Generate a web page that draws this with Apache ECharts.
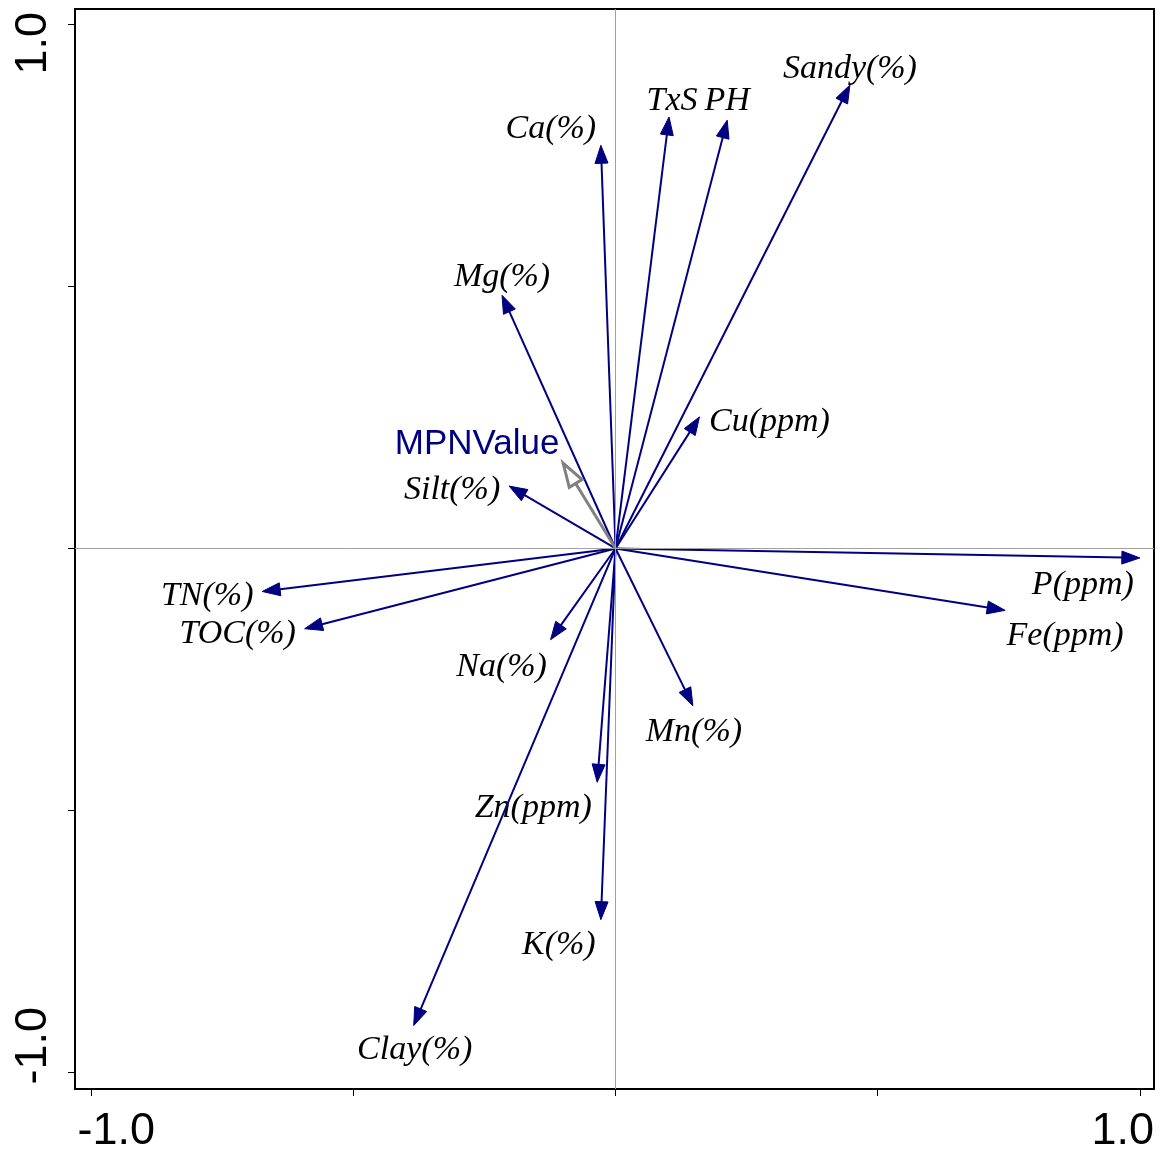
<!DOCTYPE html>
<html>
<head>
<meta charset="utf-8">
<script src="https://cdn.jsdelivr.net/npm/echarts@6/dist/echarts.min.js"></script>
<style>
html,body{margin:0;padding:0;background:#fff;}
#chart{width:1168px;height:1150px;}
</style>
</head>
<body>
<div id="chart"></div>
<script>
// ---- data ----
const variables = ['Sandy(%)','TxS','PH','Ca(%)','Mg(%)','Cu(ppm)','Silt(%)','TN(%)','TOC(%)','Na(%)','P(ppm)','Fe(ppm)','Mn(%)','Zn(ppm)','K(%)','Clay(%)'];
const axis1 = [0.447, 0.102, 0.213, -0.028, -0.2165, 0.160, -0.203, -0.674, -0.593, -0.124, 1.000, 0.743, 0.1475, -0.035, -0.028, -0.385];
const axis2 = [0.884, 0.823, 0.817, 0.769, 0.483, 0.251, 0.119, -0.082, -0.153, -0.174, -0.018, -0.118, -0.300, -0.446, -0.708, -0.910];
const supplementary = ['MPNValue'];
const supAxis1 = [-0.100];
const supAxis2 = [0.163];
const tickValues = [-1, -0.5, 0, 0.5, 1];
const tickLabelValues = [-1, 1];

// ---- layout (label offsets from arrow tips, px) ----
const labelOffsets = [[0,-16],[3,-16],[0,-19],[-50,-16],[0,-18],[70,5],[-57,4],[-55,5],[-67,5],[-49,27],[-57,27],[60,26],[1,26],[-64,26],[-42,25],[1,24]];
const supLabelOffsets = [[-86,-19]];

const chart = echarts.init(document.getElementById('chart'));

function arrowItem(color, lw, hl, hw, hollow, labels, offsets, font, labelColor) {
  return function (params, api) {
    const x = api.value(0), y = api.value(1), i = params.dataIndex;
    const o = api.coord([0, 0]);
    const t = api.coord([x, y]);
    const dx = t[0] - o[0], dy = t[1] - o[1];
    const L = Math.hypot(dx, dy);
    const ux = dx / L, uy = dy / L;
    const b = [t[0] - ux * hl, t[1] - uy * hl];
    const p1 = [b[0] - uy * hw, b[1] + ux * hw];
    const p2 = [b[0] + uy * hw, b[1] - ux * hw];
    const endLine = hollow ? b : [b[0] + ux * 2, b[1] + uy * 2];
    const off = offsets[i];
    return {
      type: 'group',
      children: [
        { type: 'line', shape: { x1: o[0], y1: o[1], x2: endLine[0], y2: endLine[1] },
          style: { stroke: color, lineWidth: lw } },
        { type: 'polygon', shape: { points: [t, p1, p2] },
          style: hollow ? { fill: 'none', stroke: color, lineWidth: lw, lineJoin: 'miter' } : { fill: color, stroke: color, lineWidth: 1 } },
        { type: 'text', x: t[0] + off[0], y: t[1] + off[1],
          style: { text: labels[i], font: font, fill: labelColor, align: 'center', verticalAlign: 'middle' } }
      ]
    };
  };
}

const option = {
  backgroundColor: '#fff',
  animation: false,
  grid: { left: 75, top: 9, width: 1079, height: 1080, outerBoundsMode: 'none', containLabel: false, show: true, borderColor: '#000', borderWidth: 2, backgroundColor: 'transparent' },
  xAxis: {
    type: 'value', min: -1.031, max: 1.027,
    axisLine: { show: false, onZero: false },
    splitLine: { show: false },
    axisTick: { show: true, inside: false, length: 7, lineStyle: { color: '#000', width: 1 }, customValues: tickValues },
    axisLabel: {
      show: true, margin: 20, customValues: tickLabelValues,
      fontFamily: 'Liberation Sans', fontSize: 45, color: '#000',
      formatter: function (v) { return v < 0 ? '{l|-1.0}' : '{r|1.0}'; },
      rich: {
        l: { fontFamily: 'Liberation Sans', fontSize: 45, color: '#000', padding: [0, 0, 0, 50] },
        r: { fontFamily: 'Liberation Sans', fontSize: 45, color: '#000', padding: [0, 34, 0, 0] }
      }
    }
  },
  yAxis: {
    type: 'value', min: -1.031, max: 1.029,
    axisLine: { show: false, onZero: false },
    splitLine: { show: false },
    axisTick: { show: true, inside: false, length: 7, lineStyle: { color: '#000', width: 1 }, customValues: tickValues },
    axisLabel: {
      show: true, margin: 19, rotate: 90, customValues: tickLabelValues,
      fontFamily: 'Liberation Sans', fontSize: 45, color: '#000',
      formatter: function (v) { return v < 0 ? '{b|-1.0}' : '{t|1.0}'; },
      rich: {
        b: { fontFamily: 'Liberation Sans', fontSize: 45, color: '#000', padding: [0, 0, 0, 54] },
        t: { fontFamily: 'Liberation Sans', fontSize: 45, color: '#000', padding: [0, 38, 0, 0] }
      }
    }
  },
  series: [
    {
      type: 'scatter', data: [], silent: true, z: 1,
      markLine: {
        silent: true, symbol: ['none', 'none'], label: { show: false },
        lineStyle: { color: '#a0a0a0', width: 1, type: 'solid' },
        emphasis: { disabled: true },
        data: [{ xAxis: 0 }, { yAxis: 0 }]
      }
    },
    {
      type: 'custom', z: 3, silent: true,
      data: axis1.map((v, i) => [v, axis2[i]]),
      encode: { x: 0, y: 1 },
      renderItem: arrowItem('#000080', 2, 18, 6.5, false, variables, labelOffsets, 'italic 34px "Liberation Serif"', '#000')
    },
    {
      type: 'custom', z: 4, silent: true,
      data: supAxis1.map((v, i) => [v, supAxis2[i]]),
      encode: { x: 0, y: 1 },
      renderItem: arrowItem('#808080', 3, 24, 7.5, true, supplementary, supLabelOffsets, '35px "Liberation Sans"', '#000080')
    }
  ]
};
chart.setOption(option);
</script>
</body>
</html>
